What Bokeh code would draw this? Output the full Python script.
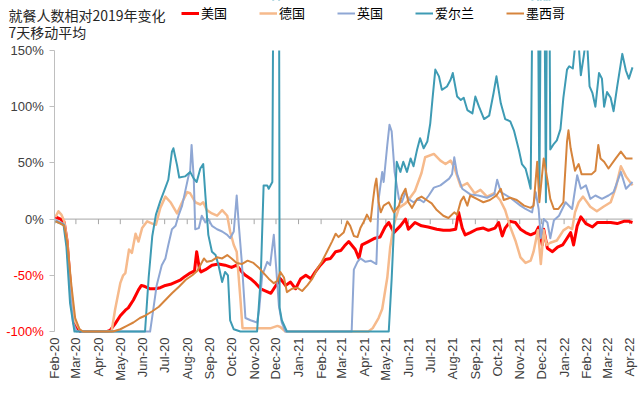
import math
import pandas as pd
from bokeh.plotting import figure
from bokeh.models import Range1d, FixedTicker, Label, LinearAxis
from bokeh.embed import file_html
from bokeh.resources import INLINE

# ---------------- data: 7-day moving average, % change of diners vs 2019 ----------------
us_dates = ["2020-02-02","2020-02-09","2020-02-14","2020-02-18","2020-02-22","2020-02-26","2020-03-02","2020-03-07","2020-04-13","2020-04-17","2020-04-24","2020-05-01","2020-05-08","2020-05-12","2020-05-19","2020-05-26","2020-05-30","2020-06-04","2020-06-11","2020-06-18","2020-06-25","2020-07-02","2020-07-09","2020-07-16","2020-07-23","2020-07-29","2020-08-05","2020-08-11","2020-08-14","2020-08-18","2020-08-20","2020-08-26","2020-09-04","2020-09-13","2020-09-22","2020-10-01","2020-10-08","2020-10-15","2020-10-20","2020-10-27","2020-11-03","2020-11-10","2020-11-17","2020-11-24","2020-11-30","2020-12-07","2020-12-14","2020-12-21","2020-12-28","2021-01-04","2021-01-11","2021-01-18","2021-01-24","2021-01-31","2021-02-07","2021-02-14","2021-02-21","2021-02-28","2021-03-05","2021-03-11","2021-03-20","2021-03-25","2021-03-29","2021-04-07","2021-04-16","2021-04-23","2021-04-30","2021-05-05","2021-05-12","2021-05-21","2021-05-28","2021-06-01","2021-06-10","2021-06-19","2021-06-28","2021-07-10","2021-07-19","2021-07-28","2021-08-05","2021-08-09","2021-08-14","2021-08-18","2021-08-25","2021-09-03","2021-09-12","2021-09-19","2021-09-28","2021-10-03","2021-10-08","2021-10-12","2021-10-19","2021-10-26","2021-11-02","2021-11-09","2021-11-16","2021-11-23","2021-11-27","2021-12-02","2021-12-04","2021-12-09","2021-12-16","2021-12-23","2021-12-30","2022-01-05","2022-01-10","2022-01-14","2022-01-19","2022-01-24","2022-01-31","2022-02-09","2022-02-16","2022-02-25","2022-03-06","2022-03-15","2022-03-24","2022-03-31","2022-04-05"]
us_vals = [2,0,-3,-20,-55,-85,-96,-100,-100,-99,-93,-86,-81,-79,-72,-63,-59,-60,-62,-62,-61,-59,-58,-56,-54,-51,-48,-46,-29,-45,-47,-45,-41,-40,-41,-43,-41,-47,-50,-53,-57,-62,-64,-66,-60,-53,-59,-56,-62,-53,-50,-53,-47,-41,-36,-35,-29,-28,-24,-20,-27,-35,-23,-20,-17,-16,-7,-3,-12,-6,0,-9,-3,-6,-7,-9,-10,-10,-9,6,-8,-14,-12,-9,-8,-10,-8,-3,-15,-8,-2,-3,-9,-12,-14,-12,-7,-23,-9,-26,-29,-25,-23,-17,-12,-23,-6,2,-4,-7,-3,-3,-3,-4,-2,-2,-3]

de_dates = ["2020-02-02","2020-02-06","2020-02-10","2020-02-14","2020-02-18","2020-02-22","2020-02-28","2020-03-06","2020-03-09","2020-04-19","2020-04-24","2020-05-01","2020-05-05","2020-05-08","2020-05-13","2020-05-17","2020-05-22","2020-05-26","2020-05-31","2020-06-07","2020-06-14","2020-06-19","2020-06-25","2020-07-02","2020-07-09","2020-07-18","2020-07-25","2020-08-01","2020-08-05","2020-08-12","2020-08-19","2020-08-23","2020-08-28","2020-09-04","2020-09-11","2020-09-18","2020-09-25","2020-09-29","2020-10-04","2020-10-08","2020-10-13","2020-10-16","2020-11-10","2020-11-24","2020-12-03","2020-12-07","2020-12-14","2021-04-07","2021-04-13","2021-04-21","2021-04-26","2021-04-29","2021-05-03","2021-05-07","2021-05-12","2021-05-19","2021-05-28","2021-06-01","2021-06-10","2021-06-19","2021-06-24","2021-07-06","2021-07-15","2021-07-22","2021-07-29","2021-08-03","2021-08-12","2021-08-21","2021-08-31","2021-09-08","2021-09-17","2021-09-27","2021-10-05","2021-10-12","2021-10-19","2021-10-26","2021-11-02","2021-11-09","2021-11-16","2021-11-20","2021-11-26","2021-11-30","2021-12-04","2021-12-08","2021-12-13","2021-12-22","2021-12-31","2022-01-07","2022-01-12","2022-01-16","2022-01-21","2022-01-27","2022-02-06","2022-02-15","2022-02-24","2022-03-06","2022-03-13","2022-03-20","2022-03-27","2022-04-05"]
de_vals = [2,7,4,-2,-20,-55,-90,-98,-100,-100,-80,-57,-50,-48,-27,-30,-13,-20,-8,-2,-4,-5,10,20,15,5,15,24,23,15,13,15,8,5,3,8,3,-11,-23,-29,-70,-97,-97,-97,-95,-96,-100,-100,-97,-88,-80,-68,-52,-25,-5,10,14,17,25,41,55,58,52,49,52,46,29,32,23,26,20,23,17,8,-7,-19,-34,-39,-37,-29,-10,-40,-10,-23,-21,-19,-10,-7,-9,6,15,20,11,7,11,15,28,47,38,30]

uk_dates = ["2020-02-02","2020-02-09","2020-02-14","2020-02-18","2020-02-22","2020-02-26","2020-03-02","2020-06-11","2020-06-15","2020-06-20","2020-06-27","2020-07-02","2020-07-06","2020-07-11","2020-07-16","2020-07-20","2020-07-25","2020-07-29","2020-08-03","2020-08-05","2020-08-07","2020-08-10","2020-08-12","2020-08-17","2020-08-21","2020-08-26","2020-08-30","2020-09-04","2020-09-11","2020-09-18","2020-09-25","2020-09-29","2020-10-04","2020-10-08","2020-10-11","2020-10-15","2020-10-20","2020-10-27","2020-11-05","2020-11-08","2020-11-12","2020-11-19","2020-11-23","2020-11-28","2020-12-01","2020-12-05","2020-12-09","2020-12-14","2021-03-15","2021-03-18","2021-03-23","2021-03-27","2021-04-03","2021-04-10","2021-04-18","2021-04-21","2021-04-26","2021-04-28","2021-05-03","2021-05-06","2021-05-09","2021-05-13","2021-05-19","2021-05-23","2021-05-28","2021-06-01","2021-06-08","2021-06-15","2021-06-22","2021-06-29","2021-07-06","2021-07-15","2021-07-27","2021-07-31","2021-08-03","2021-08-07","2021-08-14","2021-08-25","2021-09-05","2021-09-17","2021-09-27","2021-10-01","2021-10-06","2021-10-19","2021-11-02","2021-11-09","2021-11-18","2021-11-23","2021-11-27","2021-11-30","2021-12-04","2021-12-09","2021-12-13","2021-12-18","2021-12-25","2022-01-03","2022-01-12","2022-01-19","2022-01-24","2022-01-31","2022-02-06","2022-02-13","2022-02-22","2022-03-03","2022-03-10","2022-03-20","2022-03-27","2022-04-05"]
uk_vals = [-1,-3,-5,-25,-65,-92,-100,-100,-82,-59,-41,-35,-23,-9,-6,3,12,24,39,42,66,36,-9,-8,3,-3,0,-6,-9,-11,-14,-17,-11,21,-6,-38,-88,-90,-92,-80,-50,-38,-41,-14,-41,-77,-92,-100,-100,-45,-38,-35,-38,-37,-40,17,42,33,66,84,78,42,18,15,24,18,15,18,15,21,28,30,36,40,55,40,27,22,21,19,22,35,24,19,12,9,6,24,9,-17,0,-3,-17,-1,3,15,9,39,27,30,18,21,18,21,24,42,27,33]

ie_dates = ["2020-02-02","2020-02-09","2020-02-13","2020-02-17","2020-02-22","2020-02-28","2020-06-04","2020-06-09","2020-06-14","2020-06-19","2020-06-25","2020-07-02","2020-07-06","2020-07-11","2020-07-13","2020-07-18","2020-07-21","2020-07-29","2020-08-05","2020-08-10","2020-08-14","2020-08-19","2020-08-23","2020-08-26","2020-08-30","2020-09-04","2020-09-09","2020-09-13","2020-09-18","2020-09-22","2020-09-26","2020-09-29","2020-10-04","2020-10-13","2020-11-05","2020-11-10","2020-11-14","2020-11-19","2020-11-21","2020-11-26","2020-11-28","2020-12-05","2020-12-06","2020-12-09","2020-12-16","2021-05-05","2021-05-09","2021-05-12","2021-05-14","2021-05-16","2021-05-21","2021-05-25","2021-05-30","2021-06-04","2021-06-08","2021-06-13","2021-06-17","2021-06-22","2021-06-27","2021-07-01","2021-07-04","2021-07-08","2021-07-13","2021-07-17","2021-07-24","2021-07-29","2021-08-01","2021-08-07","2021-08-12","2021-08-16","2021-08-21","2021-08-28","2021-09-01","2021-09-06","2021-09-13","2021-09-20","2021-09-26","2021-09-30","2021-10-06","2021-10-12","2021-10-19","2021-10-24","2021-10-31","2021-11-04","2021-11-09","2021-11-13","2021-11-16","2021-11-20","2021-11-25","2021-11-28","2021-12-01","2021-12-04","2021-12-07","2021-12-09","2021-12-11","2021-12-13","2021-12-18","2021-12-22","2021-12-27","2021-12-31","2022-01-05","2022-01-08","2022-01-13","2022-01-17","2022-01-21","2022-01-24","2022-01-28","2022-02-01","2022-02-05","2022-02-09","2022-02-13","2022-02-18","2022-02-22","2022-02-25","2022-03-01","2022-03-06","2022-03-10","2022-03-15","2022-03-22","2022-03-27","2022-03-31","2022-04-05"]
ie_vals = [-2,-4,-5,-25,-75,-100,-100,-52,-15,4,16,28,35,60,63,48,37,38,42,36,33,45,49,21,-14,-29,-32,-41,-56,-47,-50,-90,-98,-100,-100,-53,30,30,27,33,300,300,-79,-90,-100,-100,-53,-10,24,51,42,51,42,54,47,62,72,63,69,85,106,133,127,115,118,124,130,109,106,108,97,94,109,100,89,92,112,127,103,89,87,79,61,49,45,35,27,300,300,22,300,300,15,300,300,62,67,70,80,108,133,136,134,160,155,128,145,165,118,112,100,130,125,100,113,108,96,118,147,132,125,135]

mx_dates = ["2020-02-02","2020-02-09","2020-02-14","2020-02-18","2020-02-24","2020-02-29","2020-03-06","2020-03-11","2020-04-21","2020-05-01","2020-05-10","2020-05-19","2020-05-28","2020-06-04","2020-06-14","2020-06-23","2020-07-02","2020-07-11","2020-07-21","2020-07-30","2020-08-08","2020-08-15","2020-08-19","2020-08-24","2020-08-28","2020-09-04","2020-09-11","2020-09-18","2020-09-25","2020-10-01","2020-10-08","2020-10-15","2020-10-23","2020-10-31","2020-11-07","2020-11-14","2020-11-21","2020-11-28","2020-12-03","2020-12-07","2020-12-12","2020-12-16","2020-12-23","2020-12-30","2021-01-06","2021-01-13","2021-01-20","2021-01-27","2021-02-02","2021-02-09","2021-02-16","2021-02-21","2021-02-25","2021-03-04","2021-03-09","2021-03-13","2021-03-18","2021-03-23","2021-03-27","2021-04-01","2021-04-05","2021-04-10","2021-04-13","2021-04-16","2021-04-18","2021-04-21","2021-04-24","2021-04-28","2021-05-05","2021-05-12","2021-05-19","2021-05-23","2021-05-28","2021-06-01","2021-06-06","2021-06-13","2021-06-19","2021-06-26","2021-07-03","2021-07-10","2021-07-19","2021-07-26","2021-08-03","2021-08-07","2021-08-12","2021-08-16","2021-08-21","2021-08-25","2021-09-03","2021-09-12","2021-09-21","2021-09-30","2021-10-06","2021-10-10","2021-10-19","2021-10-28","2021-11-07","2021-11-16","2021-11-20","2021-11-25","2021-11-28","2021-12-04","2021-12-09","2021-12-13","2021-12-18","2021-12-24","2021-12-31","2022-01-05","2022-01-07","2022-01-10","2022-01-16","2022-01-21","2022-01-25","2022-02-01","2022-02-08","2022-02-13","2022-02-17","2022-02-20","2022-02-25","2022-03-03","2022-03-13","2022-03-20","2022-03-27","2022-04-05"]
mx_vals = [-2,-4,-6,-20,-60,-88,-98,-100,-100,-98,-95,-92,-88,-86,-82,-78,-72,-66,-60,-54,-50,-46,-41,-35,-38,-37,-34,-35,-32,-35,-39,-40,-37,-39,-43,-48,-53,-57,-55,-47,-52,-65,-62,-61,-64,-59,-53,-44,-38,-29,-20,-13,-16,-12,-2,-6,-15,-16,-8,-2,4,-2,15,30,36,15,6,12,15,6,12,21,27,15,10,18,20,17,14,8,3,1,6,4,16,20,12,21,18,15,17,21,27,17,19,17,12,10,12,51,15,54,35,18,9,9,15,69,79,63,43,49,40,40,40,43,66,54,51,45,54,60,54,54]

series_names = ["美国", "德国", "英国", "爱尔兰", "墨西哥"]
series_colors = ["#FF0000", "#F6BA8C", "#8FA7D4", "#3E9BB4", "#D6843C"]
series_widths = [3, 2.5, 2, 2, 2]

tick_dates = pd.date_range("2020-02-01", "2022-04-01", freq="MS")
tick_labels = [d.strftime("%b-%y") for d in tick_dates]
y_ticks_pos = [0, 50, 100, 150]
y_labels_pos = ["0%", "50%", "100%", "150%"]
y_ticks_neg = [-100, -50]
y_labels_neg = ["-100%", "-50%"]

title_lines = ["就餐人数相对2019年变化", "7天移动平均"]

x_start = pd.Timestamp("2020-02-01")
x_end = pd.Timestamp("2022-04-05")
y_min, y_max = -100, 150

# ---------------- layout: plot area inside a 640x393 canvas ----------------
W, H = 640, 393
left_px, right_px, top_px, bottom_px = 54.3, 632.0, 50.0, 331.0
ppd = (right_px - left_px) / (x_end - x_start).days
ppu = (bottom_px - top_px) / (y_max - y_min)
xr = Range1d(x_start - pd.Timedelta(days=left_px / ppd), x_end + pd.Timedelta(days=(W - right_px) / ppd))
yr = Range1d(y_min - (H - bottom_px) / ppu, y_max + top_px / ppu)

p = figure(width=W, height=H, x_axis_type="datetime", x_range=xr, y_range=yr,
           output_backend="svg", toolbar_location=None, title=None, min_border=0)
p.outline_line_color = None
p.xgrid.visible = False
p.ygrid.visible = False
p.background_fill_color = "white"
p.border_fill_color = "white"

def ms(ts):
    return int(pd.Timestamp(ts).value // 10**6)

tick_ms = [ms(d) for d in tick_dates]

# horizontal axis line at 0 with tick marks
p.segment(x0=[x_start], y0=[0], x1=[x_end], y1=[0], line_color="#A6A6A6", line_width=1)
p.segment(x0=list(tick_dates), y0=0, x1=list(tick_dates), y1=-4.5, line_color="#A6A6A6", line_width=1)

for d, v, name, col, w in zip([us_dates, de_dates, uk_dates, ie_dates, mx_dates],
                              [us_vals, de_vals, uk_vals, ie_vals, mx_vals],
                              series_names, series_colors, series_widths):
    p.line(x=pd.to_datetime(d), y=v, line_color=col, line_width=w, legend_label=name, line_join="round")

# mask everything drawn above the 150% top of the plot area
p.quad(left=[x_start], right=[xr.end], bottom=[y_max], top=[yr.end], fill_color="white", line_color=None)

# x axis: month labels under the plot area
xa = p.xaxis[0]
xa.fixed_location = y_min
xa.ticker = FixedTicker(ticks=tick_ms)
xa.major_label_overrides = dict(zip(tick_ms, tick_labels))
xa.major_label_orientation = math.pi / 2
xa.axis_line_color = None
xa.major_tick_line_color = None
xa.major_tick_out = 0
xa.minor_tick_line_color = None
xa.major_label_standoff = 6
xa.major_label_text_font = "Liberation Sans"
xa.major_label_text_font_size = "13px"
xa.major_label_text_color = "#404040"

# y axis (grey labels for >= 0)
ya = p.yaxis[0]
ya.fixed_location = ms(x_start)
ya.bounds = (y_min, y_max)
ya.ticker = FixedTicker(ticks=y_ticks_neg + y_ticks_pos)
ya.major_label_overrides = {**{t: "" for t in y_ticks_neg}, **dict(zip(y_ticks_pos, y_labels_pos))}
ya.axis_line_color = "#BFBFBF"
ya.major_tick_line_color = "#BFBFBF"
ya.major_tick_out = 5
ya.major_tick_in = 0
ya.minor_tick_line_color = None
ya.major_label_standoff = 6
ya.major_label_text_font = "Liberation Sans"
ya.major_label_text_font_size = "13px"
ya.major_label_text_color = "#404040"

# second y axis on the same line: red labels for negative values
ya2 = LinearAxis(fixed_location=ms(x_start), ticker=FixedTicker(ticks=y_ticks_neg),
                 major_label_overrides=dict(zip(y_ticks_neg, y_labels_neg)),
                 axis_line_color=None, major_tick_line_color=None, minor_tick_line_color=None,
                 major_tick_out=0, major_tick_in=0, major_label_standoff=11,
                 major_label_text_font="Liberation Sans", major_label_text_font_size="13px",
                 major_label_text_color="#FF0000")
p.add_layout(ya2, "left")

# two-line title at the top-left
for i, (txt, yoff) in enumerate(zip(title_lines, [14, 31])):
    p.add_layout(Label(x=8, x_units="screen", y=H - yoff, y_units="screen",
                       text=txt, text_font="Noto Sans CJK SC", text_font_size="14px",
                       text_color="#262626", text_align="left", text_baseline="middle"))

# legend in one row at the top
leg = p.legend[0]
leg.location = (181, H - 22)
leg.orientation = "horizontal"
leg.padding = 0
leg.margin = 0
leg.spacing = 32
leg.label_standoff = 2
leg.glyph_width = 18
leg.glyph_height = 16
leg.label_height = 16
leg.label_text_font = "Noto Sans CJK SC"
leg.label_text_font_size = "13px"
leg.label_text_color = "#000000"
leg.background_fill_alpha = 0
leg.border_line_color = None

open("out.html", "w").write(file_html(p, INLINE))
